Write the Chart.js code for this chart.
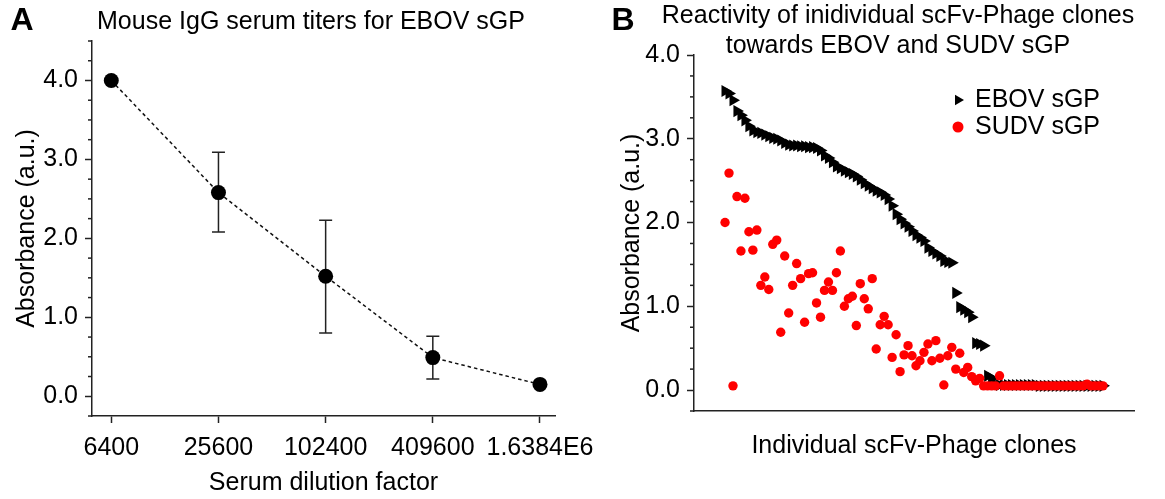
<!DOCTYPE html>
<html><head><meta charset="utf-8">
<script src="https://cdn.jsdelivr.net/npm/chart.js@4.4.1/dist/chart.umd.min.js"></script>
<style>
html,body{margin:0;padding:0;background:#fff;}
#wrap{position:relative;width:1165px;height:499px;overflow:hidden;background:#fff;}
#cA{position:absolute;left:0;top:0;}
#cB{position:absolute;left:580px;top:0;}
</style></head><body>
<div id="wrap"><canvas id="cA" width="610" height="499"></canvas><canvas id="cB" width="585" height="499"></canvas></div>
<script>
// ---------- Panel A data ----------
const dilutionFactors = [6400, 25600, 102400, 409600, 1638400];
const dilutionLabels = ['6400', '25600', '102400', '409600', '1.6384E6'];
const titerMean = [4.00, 2.58, 1.52, 0.49, 0.15];
const titerLow  = [null, 2.08, 0.80, 0.22, null];
const titerHigh = [null, 3.09, 2.23, 0.76, null];
const titleA = 'Mouse IgG serum titers for EBOV sGP';
const xTitleA = 'Serum dilution factor';
const yTitle = 'Absorbance (a.u.)';

// ---------- Panel B data ----------
const cloneIndex = Array.from({length: 96}, (_, i) => i);
const ebovValues = [
 3.57,3.54,3.46,3.33,3.28,3.22,3.15,3.10,3.08,3.07,
 3.05,3.03,3.01,3.00,2.98,2.95,2.93,2.92,2.92,2.91,
 2.91,2.90,2.90,2.89,2.86,2.80,2.77,2.72,2.67,2.65,
 2.62,2.60,2.58,2.55,2.51,2.47,2.44,2.41,2.38,2.36,
 2.33,2.28,2.20,2.10,2.04,1.99,1.95,1.90,1.85,1.82,
 1.78,1.70,1.66,1.63,1.60,1.54,1.53,1.52,1.16,0.99,
 0.96,0.93,0.87,0.56,0.55,0.53,0.17,0.14,0.07,0.06,
 0.06,0.06,0.06,0.06,0.06,0.06,0.06,0.06,0.06,0.05,
 0.05,0.05,0.05,0.05,0.05,0.05,0.05,0.05,0.05,0.05,
 0.05,0.05,0.05,0.05,0.05,0.05];
const sudvValues = [
 2.00,2.59,0.05,2.31,1.66,2.29,1.89,1.67,1.91,1.25,
 1.35,1.20,1.74,1.79,0.69,1.60,0.92,1.25,1.51,1.33,
 0.81,1.39,1.40,1.04,0.87,1.19,1.29,1.19,1.40,1.66,
 1.00,1.09,1.12,0.77,1.27,1.09,0.97,1.33,0.49,0.78,
 0.88,0.78,0.39,0.66,0.22,0.42,0.53,0.41,0.29,0.35,
 0.45,0.55,0.35,0.59,0.38,0.06,0.41,0.51,0.25,0.44,
 0.21,0.27,0.16,0.11,0.14,0.05,0.05,0.05,0.05,0.17,
 0.05,0.05,0.05,0.05,0.05,0.05,0.05,0.05,0.05,0.05,
 0.05,0.05,0.05,0.05,0.05,0.05,0.05,0.05,0.05,0.05,
 0.05,0.07,0.05,0.05,0.05,0.05];
const seriesNames = ['EBOV sGP', 'SUDV sGP'];
const titleB = ['Reactivity of inidividual scFv-Phage clones', 'towards EBOV and SUDV sGP'];
const xTitleB = 'Individual scFv-Phage clones';
const yTickLabels = ['0.0', '1.0', '2.0', '3.0', '4.0'];

// ---------- common style ----------
const FONT = "'Liberation Sans', Arial, sans-serif";
const AXIS = '#222';
Chart.defaults.font.family = FONT;
Chart.defaults.font.size = 25;
Chart.defaults.color = '#000';

const isMajor = v => Math.abs(v - Math.round(v)) < 1e-9 && v >= 0;

const textPlugin = {
  id: 'panelText',
  afterDraw(chart, args, opts) {
    const ctx = chart.ctx;
    ctx.save();
    ctx.fillStyle = '#000';
    ctx.textBaseline = 'middle';
    (opts.items || []).forEach(it => {
      ctx.font = it.font;
      ctx.textAlign = it.align || 'center';
      ctx.fillText(it.text, it.x, it.y);
    });
    ctx.restore();
  }
};

const minorTickPlugin = {
  id: 'minorTicks',
  afterDraw(chart, args, opts) {
    const s = chart.scales.y;
    const ctx = chart.ctx;
    ctx.save();
    ctx.strokeStyle = AXIS;
    ctx.lineWidth = 1.5;
    s.ticks.forEach(t => {
      if (!isMajor(t.value)) {
        const y = s.getPixelForValue(t.value);
        ctx.beginPath();
        ctx.moveTo(s.right - opts.length, y);
        ctx.lineTo(s.right, y);
        ctx.stroke();
      }
    });
    ctx.restore();
  }
};

const errorBarPlugin = {
  id: 'errorBars',
  beforeDatasetsDraw(chart) {
    const xs = chart.scales.x, ys = chart.scales.y, ctx = chart.ctx;
    ctx.save();
    ctx.strokeStyle = AXIS;
    ctx.lineWidth = 1.5;
    dilutionFactors.forEach((d, i) => {
      if (titerLow[i] == null) return;
      const x = xs.getPixelForValue(d);
      const yl = ys.getPixelForValue(titerLow[i]);
      const yh = ys.getPixelForValue(titerHigh[i]);
      ctx.beginPath();
      ctx.moveTo(x, yl); ctx.lineTo(x, yh);
      ctx.moveTo(x - 6.5, yl); ctx.lineTo(x + 6.5, yl);
      ctx.moveTo(x - 6.5, yh); ctx.lineTo(x + 6.5, yh);
      ctx.stroke();
    });
    ctx.restore();
  }
};

const legendPlugin = {
  id: 'customLegend',
  afterDraw(chart, args, opts) {
    const ctx = chart.ctx;
    ctx.save();
    chart.data.datasets.forEach((ds, i) => {
      const y = opts.y + i * opts.rowGap;
      const x = opts.x;
      ctx.fillStyle = ds.backgroundColor;
      ctx.beginPath();
      if (ds.pointStyle === 'triangle') {
        const r = 6;
        ctx.moveTo(x + r, y);
        ctx.lineTo(x - r / 2, y - r * 0.866);
        ctx.lineTo(x - r / 2, y + r * 0.866);
        ctx.closePath();
      } else {
        ctx.arc(x, y, 5.5, 0, Math.PI * 2);
      }
      ctx.fill();
      ctx.fillStyle = '#000';
      ctx.font = '25px ' + FONT;
      ctx.textAlign = 'left';
      ctx.textBaseline = 'middle';
      ctx.fillText(ds.label, opts.textX, y);
    });
    ctx.restore();
  }
};

function yAxis(min, max, width, titlePad) {
  return {
    type: 'linear', min, max,
    afterFit: s => { s.width = width; },
    ticks: {
      stepSize: 0.25, autoSkip: false, padding: 7,
      callback: v => isMajor(v) ? yTickLabels[Math.round(v)] : ''
    },
    grid: {
      drawOnChartArea: false, drawTicks: true, tickLength: 7, tickWidth: 1.5,
      tickColor: c => (c.tick && isMajor(c.tick.value)) ? AXIS : 'rgba(0,0,0,0)'
    },
    border: { display: true, color: AXIS, width: 1.5 },
    title: { display: true, text: yTitle, padding: { top: titlePad, bottom: 0 }, font: { size: 25 } }
  };
}

// ---------- Chart A ----------
new Chart(document.getElementById('cA'), {
  type: 'line',
  data: {
    datasets: [{
      label: titleA,
      data: dilutionFactors.map((d, i) => ({ x: d, y: titerMean[i] })),
      borderColor: '#111', borderWidth: 1.5, borderDash: [3.5, 3],
      pointRadius: 7.5, pointBackgroundColor: '#000', pointBorderWidth: 0,
      tension: 0, fill: false
    }]
  },
  options: {
    responsive: false, devicePixelRatio: 1, animation: false,
    layout: { padding: { top: 41, right: 55, left: 0, bottom: 0 } },
    plugins: {
      legend: { display: false }, tooltip: { enabled: false },
      panelText: { items: [
        { text: 'A', x: 22, y: 21, font: 'bold 32px ' + FONT },
        { text: titleA, x: 311, y: 22, font: '25px ' + FONT }
      ] },
      minorTicks: { length: 4 }
    },
    scales: {
      x: {
        type: 'logarithmic',
        min: 6400 * Math.pow(4, -0.18), max: 1638400 * Math.pow(4, 0.14),
        afterBuildTicks: s => { s.ticks = dilutionFactors.map(v => ({ value: v })); },
        afterFit: s => { s.height = 83; },
        ticks: { autoSkip: false, maxRotation: 0, padding: 10,
          callback: (v, i) => dilutionLabels[i] },
        grid: { drawOnChartArea: false, drawTicks: true, tickLength: 7, tickWidth: 1.5, tickColor: AXIS },
        border: { display: true, color: AXIS, width: 1.5 },
        title: { display: true, text: xTitleA, padding: { top: 0, bottom: 1 }, font: { size: 25 } }
      },
      y: yAxis(-0.25, 4.5, 92, 12)
    }
  },
  plugins: [textPlugin, minorTickPlugin, errorBarPlugin]
});

// ---------- Chart B ----------
new Chart(document.getElementById('cB'), {
  type: 'scatter',
  data: {
    datasets: [
      { label: seriesNames[0], order: 2,
        data: cloneIndex.map(i => ({ x: i, y: ebovValues[i] })),
        pointStyle: 'triangle', rotation: 90, pointRadius: 7,
        backgroundColor: '#000', borderWidth: 0 },
      { label: seriesNames[1], order: 1,
        data: cloneIndex.map(i => ({ x: i, y: sudvValues[i] })),
        pointStyle: 'circle', pointRadius: 4.7,
        backgroundColor: '#ff0000', borderWidth: 0 }
    ]
  },
  options: {
    responsive: false, devicePixelRatio: 1, animation: false,
    layout: { padding: { top: 55, right: 31, left: 0, bottom: 0 } },
    plugins: {
      legend: { display: false }, tooltip: { enabled: false },
      panelText: { items: [
        { text: 'B', x: 43, y: 21, font: 'bold 32px ' + FONT },
        { text: titleB[0], x: 318, y: 16, font: '25px ' + FONT },
        { text: titleB[1], x: 318, y: 46, font: '25px ' + FONT }
      ] },
      minorTicks: { length: 4 },
      customLegend: { x: 378, y: 100, rowGap: 27, textX: 395 }
    },
    scales: {
      x: {
        type: 'linear', min: -7.8, max: 102.8,
        afterFit: s => { s.height = 88; },
        ticks: { display: false },
        grid: { display: false },
        border: { display: true, color: AXIS, width: 1.5 },
        title: { display: true, text: xTitleB, padding: { top: 0, bottom: 38 }, font: { size: 25 } }
      },
      y: yAxis(-0.25, 4.0, 114, 37)
    }
  },
  plugins: [textPlugin, minorTickPlugin, legendPlugin]
});
</script>
</body></html>
